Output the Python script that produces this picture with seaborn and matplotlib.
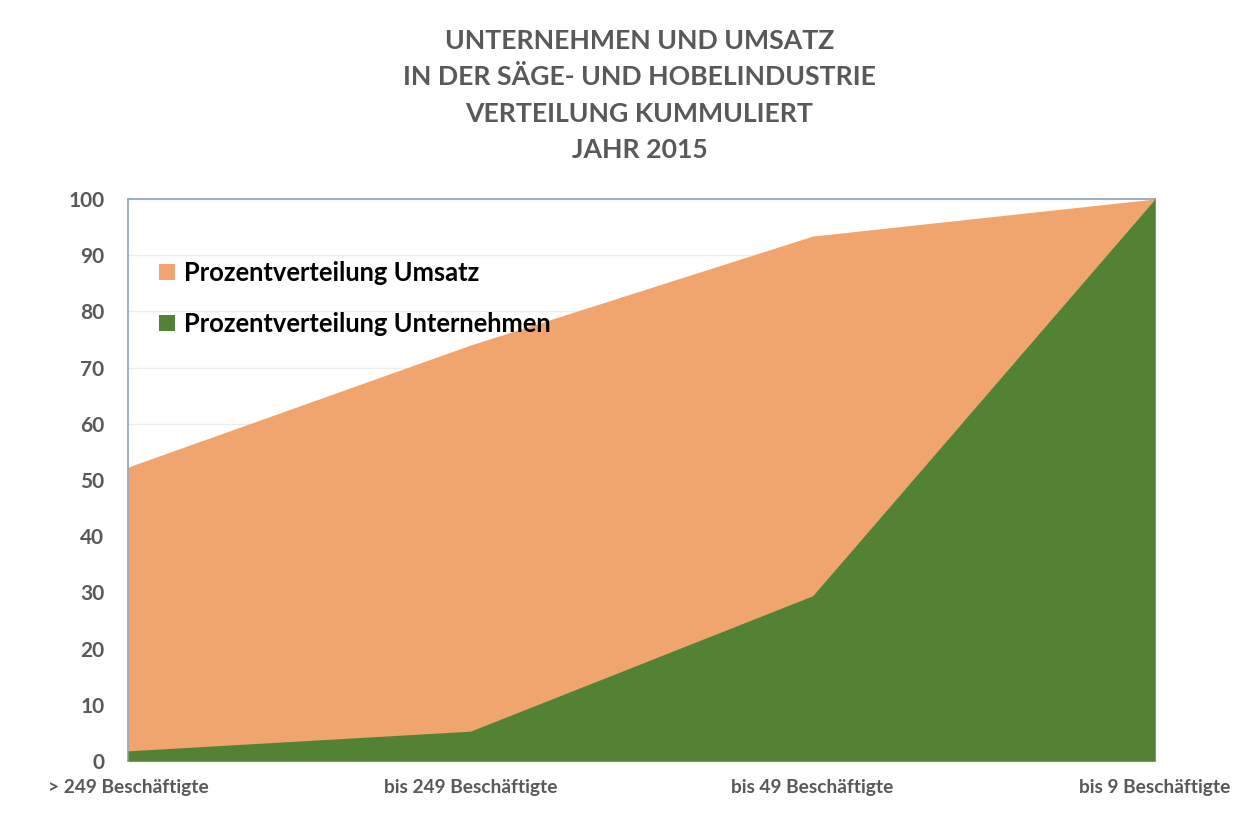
import numpy as np
import pandas as pd
import matplotlib
matplotlib.use("Agg")
import matplotlib.pyplot as plt
import seaborn as sns

#Data
kategorien = ["> 249 Beschäftigte", "bis 249 Beschäftigte", "bis 49 Beschäftigte", "bis 9 Beschäftigte"]
umsatz = [52.3, 74.0, 93.4, 100.0]
unternehmen = [1.8, 5.3, 29.4, 100.0]
titel = "UNTERNEHMEN UND UMSATZ\nIN DER SÄGE- UND HOBELINDUSTRIE\nVERTEILUNG KUMMULIERT\nJAHR 2015"

df = pd.DataFrame({"Kategorie": kategorien, "Umsatz": umsatz, "Unternehmen": unternehmen})
df["pos"] = range(len(df))

sns.set_theme(style="white")
plt.rcParams['font.family'] = ['Lato', 'DejaVu Sans']

fig = plt.figure(figsize=(12.59, 8.24), dpi=100)
ax = fig.add_axes([0.1017, 0.0765, 0.8157, 0.682])

orange = "#F0A46E"
gruen = "#548235"

#Areas
ax.fill_between(df["pos"], df["Umsatz"], color=orange, linewidth=0, label="Prozentverteilung Umsatz", zorder=2)
ax.fill_between(df["pos"], df["Unternehmen"], color=gruen, linewidth=0, label="Prozentverteilung Unternehmen", zorder=3)

ax.set_xlim(0, 3)
ax.set_ylim(0, 100)
ax.set_yticks(range(0, 101, 10))
ax.set_xticks(df["pos"])
ax.set_xticklabels(df["Kategorie"])
ax.yaxis.grid(True, color="#EDEDED", linewidth=1, zorder=0)
ax.set_axisbelow(True)

for lab in ax.get_yticklabels():
    lab.set_fontsize(15)
    lab.set_fontweight("bold")
    lab.set_color("#595959")
for lab in ax.get_xticklabels():
    lab.set_fontsize(13.8)
    lab.set_fontweight("bold")
    lab.set_color("#595959")
ax.tick_params(axis="y", pad=17, length=0)
ax.tick_params(axis="x", pad=13, length=0)

for s in ["left", "top", "right"]:
    ax.spines[s].set_color("#8EA3BE")
    ax.spines[s].set_linewidth(1.2)
ax.spines["bottom"].set_color("#A6A6A6")
ax.spines["bottom"].set_linewidth(1.5)
ax.set_xlabel("")
ax.set_ylabel("")

#Legend
handles, labels = ax.get_legend_handles_labels()
leg = ax.legend(handles, labels, loc="upper left", bbox_to_anchor=(0.008, 0.93), frameon=False,
                prop={"size": 18.4, "weight": "bold"}, handlelength=0.6, handleheight=0.6,
                handletextpad=0.35, labelspacing=1.05)
for t in leg.get_texts():
    t.set_color("black")

#Title
fig.text(0.508, 0.965, titel, ha="center", va="top", fontsize=19.2, fontweight="bold",
         color="#595959", linespacing=1.62)

fig.savefig("out.png", dpi=100)
